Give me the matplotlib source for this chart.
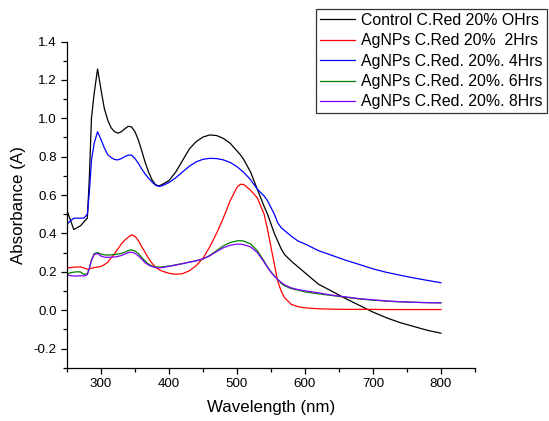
import matplotlib
matplotlib.use("Agg")
import matplotlib.pyplot as plt
from matplotlib.ticker import MultipleLocator

plt.rcParams['font.family'] = ['Liberation Sans', 'DejaVu Sans']

wavelength = [250, 255, 260, 265, 270, 275, 280, 283, 286, 290, 295, 300, 305, 310, 315,
              320, 325, 330, 335, 340, 345, 350, 355, 360, 365, 370, 375, 380, 385, 390,
              400, 410, 420, 430, 440, 450, 460, 470, 480, 490, 500, 505, 510, 520, 530,
              540, 545, 550, 555, 560, 565, 570, 580, 590, 600, 620, 640, 660, 680, 700,
              720, 740, 760, 780, 800]

control_0h = [0.52, 0.47, 0.42, 0.43, 0.44, 0.46, 0.48, 0.70, 1.00, 1.13, 1.257, 1.15, 1.05, 0.99, 0.95,
              0.93, 0.922, 0.93, 0.945, 0.958, 0.955, 0.93, 0.887, 0.83, 0.77, 0.72, 0.68, 0.655, 0.647, 0.655,
              0.675, 0.72, 0.78, 0.84, 0.878, 0.902, 0.913, 0.91, 0.895, 0.87, 0.83, 0.81, 0.785, 0.72, 0.63,
              0.54, 0.50, 0.45, 0.40, 0.36, 0.32, 0.29, 0.255, 0.225, 0.195, 0.135, 0.098, 0.06, 0.025, -0.01,
              -0.04, -0.065, -0.085, -0.105, -0.12]

agnps_2h = [0.219, 0.222, 0.224, 0.225, 0.225, 0.22, 0.213, 0.215, 0.218, 0.222, 0.224, 0.228, 0.237, 0.25, 0.272,
            0.295, 0.32, 0.345, 0.365, 0.38, 0.392, 0.385, 0.363, 0.33, 0.30, 0.27, 0.245, 0.225, 0.212, 0.203,
            0.192, 0.187, 0.19, 0.205, 0.232, 0.27, 0.33, 0.40, 0.48, 0.57, 0.64, 0.656, 0.655, 0.625, 0.585,
            0.50, 0.42, 0.33, 0.24, 0.15, 0.10, 0.065, 0.03, 0.018, 0.012, 0.007, 0.005, 0.004, 0.004, 0.004,
            0.003, 0.003, 0.003, 0.003, 0.003]

agnps_4h = [0.448, 0.465, 0.479, 0.479, 0.479, 0.48, 0.50, 0.62, 0.78, 0.87, 0.93, 0.89, 0.845, 0.81, 0.795,
            0.785, 0.783, 0.79, 0.80, 0.808, 0.808, 0.79, 0.765, 0.735, 0.71, 0.688, 0.668, 0.652, 0.645, 0.648,
            0.665, 0.69, 0.72, 0.75, 0.773, 0.786, 0.791, 0.79, 0.783, 0.77, 0.748, 0.733, 0.718, 0.68, 0.63,
            0.595, 0.57, 0.535, 0.50, 0.455, 0.43, 0.415, 0.385, 0.36, 0.345, 0.31, 0.285, 0.26, 0.238, 0.215,
            0.197, 0.182, 0.168, 0.155, 0.143]

agnps_6h = [0.187, 0.195, 0.198, 0.20, 0.199, 0.186, 0.19, 0.22, 0.26, 0.295, 0.30, 0.292, 0.288, 0.287, 0.288,
            0.29, 0.292, 0.296, 0.302, 0.31, 0.314, 0.308, 0.295, 0.275, 0.255, 0.24, 0.23, 0.225, 0.224, 0.225,
            0.23, 0.236, 0.243, 0.25, 0.257, 0.267, 0.285, 0.31, 0.335, 0.352, 0.361, 0.362, 0.36, 0.345, 0.31,
            0.255, 0.225, 0.20, 0.178, 0.16, 0.14, 0.127, 0.112, 0.104, 0.095, 0.085, 0.076, 0.067, 0.058, 0.052,
            0.047, 0.043, 0.041, 0.039, 0.038]

agnps_8h = [0.183, 0.18, 0.178, 0.178, 0.179, 0.178, 0.185, 0.22, 0.26, 0.29, 0.295, 0.282, 0.276, 0.275, 0.276,
            0.277, 0.28, 0.285, 0.292, 0.30, 0.302, 0.296, 0.283, 0.265, 0.247, 0.235, 0.227, 0.222, 0.22, 0.222,
            0.228, 0.235, 0.242, 0.25, 0.257, 0.267, 0.283, 0.305, 0.325, 0.338, 0.344, 0.344, 0.341, 0.33, 0.30,
            0.25, 0.222, 0.198, 0.177, 0.16, 0.145, 0.132, 0.116, 0.107, 0.101, 0.09, 0.078, 0.069, 0.06, 0.054,
            0.048, 0.044, 0.041, 0.039, 0.038]

labels = ["Control C.Red 20% OHrs", "AgNPs C.Red 20%  2Hrs", "AgNPs C.Red. 20%. 4Hrs",
          "AgNPs C.Red. 20%. 6Hrs", "AgNPs C.Red. 20%. 8Hrs"]
colors = ["#000000", "#ff0000", "#0000ff", "#008000", "#8000ff"]
series = [control_0h, agnps_2h, agnps_4h, agnps_6h, agnps_8h]

fig = plt.figure(figsize=(5.49, 4.21), dpi=100)
ax = fig.add_axes([0.122, 0.1266, 0.743, 0.7748])

for ys, c, lab in zip(series, colors, labels):
    ax.plot(wavelength, ys, color=c, lw=0.9, label=lab)

ax.set_xlim(250, 850)
ax.set_ylim(-0.3, 1.4)
ax.xaxis.set_minor_locator(MultipleLocator(50))
ax.yaxis.set_minor_locator(MultipleLocator(0.1))
ax.set_xticks([300, 400, 500, 600, 700, 800])
ax.set_yticks([-0.2, 0.0, 0.2, 0.4, 0.6, 0.8, 1.0, 1.2, 1.4])
ax.set_yticklabels(["-0.2", "0.0", "0.2", "0.4", "0.6", "0.8", "1.0", "1.2", "1.4"])

for s in ['top', 'right']:
    ax.spines[s].set_visible(False)
for s in ['left', 'bottom']:
    ax.spines[s].set_linewidth(0.9)
ax.tick_params(which='major', direction='out', length=4.3, width=0.9, labelsize=9.6, colors='black', pad=3)
ax.tick_params(which='minor', direction='out', length=2.6, width=0.9)

ax.set_xlabel("Wavelength (nm)", fontsize=12.2, labelpad=7)
ax.set_ylabel("Absorbance (A)", fontsize=12.2, labelpad=6)

leg = fig.legend(loc='upper left', bbox_to_anchor=(316 / 549, 1 - 9 / 421), fontsize=11.4,
                 frameon=True, fancybox=False, edgecolor='#333333', framealpha=1,
                 handlelength=2.2, handletextpad=0.4, borderpad=0.25, labelspacing=0.34,
                 borderaxespad=0)
leg.get_frame().set_linewidth(0.9)

fig.savefig("out.png", dpi=100)
